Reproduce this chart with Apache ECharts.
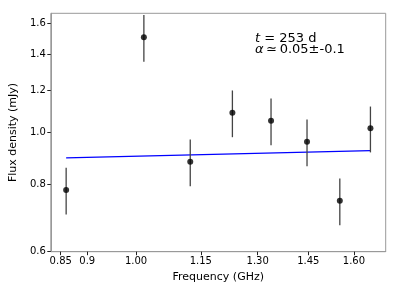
<!DOCTYPE html>
<html>
<head>
<meta charset="utf-8">
<script src="https://cdn.jsdelivr.net/npm/echarts@6/dist/echarts.min.js"></script>
<style>html,body{margin:0;padding:0;background:#fff}#c{width:399px;height:290px}</style>
</head>
<body>
<div id="c"></div>
<script>
var freqs = [0.860, 1.017, 1.124, 1.231, 1.338, 1.446, 1.552, 1.658];
var flux = [0.782, 1.507, 0.883, 1.090, 1.053, 0.962, 0.747, 1.019];
var fluxErr = [0.078, 0.150, 0.088, 0.109, 0.105, 0.096, 0.075, 0.100];
var fitFreq = [0.860, 1.658];
var fitFlux = [0.898, 0.926];
var xTicks = [0.85, 0.9, 1.00, 1.15, 1.30, 1.45, 1.60];
var xTickLabels = ['0.85', '0.9', '1.00', '1.15', '1.30', '1.45', '1.60'];
var yTicks = [0.6, 0.8, 1.0, 1.2, 1.4, 1.6];
var yTickLabels = ['0.6', '0.8', '1.0', '1.2', '1.4', '1.6'];

var FONT = 'DejaVu Sans';
var chart = echarts.init(document.getElementById('c'), null, {renderer: 'canvas'});

function labelFor(ticks, labels) {
  return function (v) {
    for (var i = 0; i < ticks.length; i++) {
      if (Math.abs(ticks[i] - v) < 1e-6) return labels[i];
    }
    return '';
  };
}

var pts = freqs.map(function (f, i) { return [f, flux[i]]; });
var errData = freqs.map(function (f, i) { return [f, flux[i] - fluxErr[i], flux[i] + fluxErr[i]]; });

var option = {
  animation: false,
  backgroundColor: '#fff',
  grid: {left: 44, right: 13.3, top: 13.3, bottom: 38.3, show: true, borderColor: '#999', borderWidth: 1},
  xAxis: {
    type: 'log', logBase: 10, min: 0.832, max: 1.7135,
    name: 'Frequency (GHz)', nameLocation: 'middle', nameGap: 15.5,
    nameTextStyle: {fontFamily: FONT, fontSize: 11, color: '#000'},
    axisLine: {show: true, lineStyle: {color: '#999', width: 1}},
    axisTick: {show: true, length: 3.5, inside: false, customValues: xTicks, lineStyle: {color: '#222', width: 1}},
    axisLabel: {customValues: xTicks, formatter: labelFor(xTicks, xTickLabels), margin: 5,
      fontFamily: FONT, fontSize: 10, color: '#000'},
    splitLine: {show: false},
    minorTick: {show: false}
  },
  yAxis: {
    type: 'log', logBase: 10, min: 0.6, max: 1.67,
    name: 'Flux density (mJy)', nameLocation: 'middle', nameGap: 22.5,
    nameTextStyle: {fontFamily: FONT, fontSize: 11, color: '#000'},
    axisLine: {show: true, lineStyle: {color: '#999', width: 1}},
    axisTick: {show: true, length: 3.5, inside: false, customValues: yTicks, lineStyle: {color: '#222', width: 1}},
    axisLabel: {customValues: yTicks, formatter: labelFor(yTicks, yTickLabels), margin: 5,
      fontFamily: FONT, fontSize: 10, color: '#000'},
    splitLine: {show: false}
  },
  series: [
    {
      type: 'line', data: fitFreq.map(function (f, i) { return [f, fitFlux[i]]; }),
      showSymbol: false, symbol: 'none', lineStyle: {color: '#0000ff', width: 1.2}, z: 2
    },
    {
      type: 'custom', data: errData, z: 3,
      renderItem: function (params, api) {
        var p1 = api.coord([api.value(0), api.value(1)]);
        var p2 = api.coord([api.value(0), api.value(2)]);
        return {type: 'line', shape: {x1: p1[0], y1: p1[1], x2: p2[0], y2: p2[1]},
          style: {stroke: '#444', lineWidth: 1.3}};
      },
      encode: {x: 0, y: [1, 2]}
    },
    {
      type: 'scatter', data: pts, symbol: 'circle', symbolSize: 6,
      itemStyle: {color: '#000'}, z: 4
    }
  ],
  graphic: [
    {type: 'text', left: 255, top: 32, style: {
      text: '{i|t} = 253 d', fontFamily: FONT, fontSize: 13, fill: '#000',
      rich: {i: {fontStyle: 'italic', fontFamily: FONT, fontSize: 13}}}},
    {type: 'text', left: 255, top: 43, style: {
      text: '{i|α}\u2009≃\u20090.05±-0.1', fontFamily: FONT, fontSize: 13, fill: '#000',
      rich: {i: {fontStyle: 'italic', fontFamily: FONT, fontSize: 13}}}}
  ]
};
chart.setOption(option);
</script>
</body>
</html>
